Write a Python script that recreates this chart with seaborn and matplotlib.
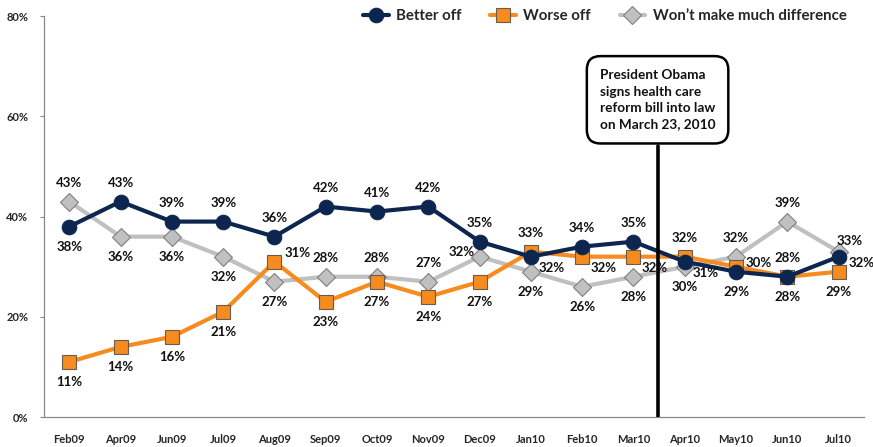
import numpy as np
import pandas as pd
import matplotlib
matplotlib.use('Agg')
import matplotlib.pyplot as plt
import seaborn as sns

months = ['Feb09', 'Apr09', 'Jun09', 'Jul09', 'Aug09', 'Sep09', 'Oct09', 'Nov09',
          'Dec09', 'Jan10', 'Feb10', 'Mar10', 'Apr10', 'May10', 'Jun10', 'Jul10']
better_off = [38, 43, 39, 39, 36, 42, 41, 42, 35, 32, 34, 35, 31, 29, 28, 32]
worse_off = [11, 14, 16, 21, 31, 23, 27, 24, 27, 33, 32, 32, 32, 30, 28, 29]
no_difference = [43, 36, 36, 32, 27, 28, 28, 27, 32, 29, 26, 28, 30, 32, 39, 33]
y_ticks = [0, 20, 40, 60, 80]
signing_pos = 11.47
note_text = "President Obama\nsigns health care\nreform bill into law\non March 23, 2010"

# label placement codes (a=above, b=below, r*=right, l=left)
better_pos = ['b', 'a', 'a', 'a', 'a', 'a', 'a', 'a', 'a', 'rd', 'a', 'a', 'rd', 'b', 'b', 'rj']
worse_pos = ['b', 'b', 'b', 'b', 'ru', 'b', 'b', 'b', 'b', 'a', 'rd', 'rd', 'a', 'r', 'a', 'b']
nodiff_pos = ['a', 'b', 'b', 'b', 'b', 'a', 'a', 'a', 'l', 'b', 'b', 'b', 'b', 'a', 'a', 'rk']
offsets = {'a': (0, 19), 'b': (0, -20), 'rd': (21, -11), 'ru': (23, 9), 'r': (23, 4),
           'l': (-18, 5), 'rj': (23, -6), 'rk': (11, 11)}

navy = '#0C2650'
orange = '#F68B1F'
grey = '#C0C0C0'

sns.set_style('white')
plt.rcParams['font.family'] = ['Lato', 'DejaVu Sans']
plt.rcParams['font.weight'] = 'bold'

df = pd.DataFrame({'x': np.arange(len(months)), 'better': better_off,
                   'worse': worse_off, 'nodiff': no_difference})

fig, ax = plt.subplots(figsize=(8.73, 4.47), dpi=100)
fig.subplots_adjust(left=0.050, right=0.990, bottom=0.067, top=0.964)

sns.lineplot(data=df, x='x', y='nodiff', ax=ax, color=grey, lw=3, marker='D', ms=9,
             mfc=grey, mec='#7F7F7F', mew=0.8, label='Won\u2019t make much difference', zorder=3)
sns.lineplot(data=df, x='x', y='worse', ax=ax, color=orange, lw=3, marker='s', ms=9.5,
             mfc=orange, mec='#6B5B4B', mew=0.8, label='Worse off', zorder=4)
sns.lineplot(data=df, x='x', y='better', ax=ax, color=navy, lw=3, marker='o', ms=10.5,
             mfc=navy, mec=navy, label='Better off', zorder=5)

for vals, pos in [(better_off, better_pos), (worse_off, worse_pos), (no_difference, nodiff_pos)]:
    for i, (v, p) in enumerate(zip(vals, pos)):
        dx, dy = offsets[p]
        ax.annotate(f'{v}%', (i, v), xytext=(dx, dy), textcoords='offset pixels',
                    ha='center', va='center', fontsize=9.5, fontweight='bold', color='#111111',
                    zorder=6, annotation_clip=False)

# health care signing marker
ax.plot([signing_pos, signing_pos], [0, 54], color='black', lw=2.6, zorder=7)
ax.text(signing_pos, 63.3, note_text, ha='center', va='center', multialignment='left',
        fontsize=9.8, fontweight='bold', color='#111111', linespacing=1.45, zorder=8,
        bbox=dict(boxstyle='round,pad=0.95,rounding_size=1.0', fc='white', ec='black', lw=1.8))

ax.set_xlim(-0.5, len(months) - 0.5)
ax.set_ylim(0, 80)
ax.set_xticks(np.arange(len(months)))
ax.set_xticklabels(months)
ax.set_xticks(np.arange(len(months)) + 0.5, minor=True)
ax.set_yticks(y_ticks)
ax.set_yticklabels([f'{t}%' for t in y_ticks])
ax.tick_params(axis='x', which='major', length=0, pad=12, labelsize=8)
ax.tick_params(axis='x', which='minor', direction='in', length=3, color='#888888')
ax.tick_params(axis='y', length=3, color='#888888', labelsize=8, pad=8, left=True)
for lab in ax.get_xticklabels() + ax.get_yticklabels():
    lab.set_fontweight('bold')
ax.set_xlabel('')
ax.set_ylabel('')
sns.despine(ax=ax)
for s in ['left', 'bottom']:
    ax.spines[s].set_color('#888888')
    ax.spines[s].set_linewidth(0.9)

handles, labels = ax.get_legend_handles_labels()
order = [2, 1, 0]
ax.legend([handles[i] for i in order], [labels[i] for i in order], loc='center',
          bbox_to_anchor=(0.684, 1.0), ncol=3, frameon=False, prop={'weight': 'bold', 'size': 10.8},
          handlelength=1.7, handletextpad=0.5, columnspacing=1.9)

fig.savefig('out.png', dpi=100)
